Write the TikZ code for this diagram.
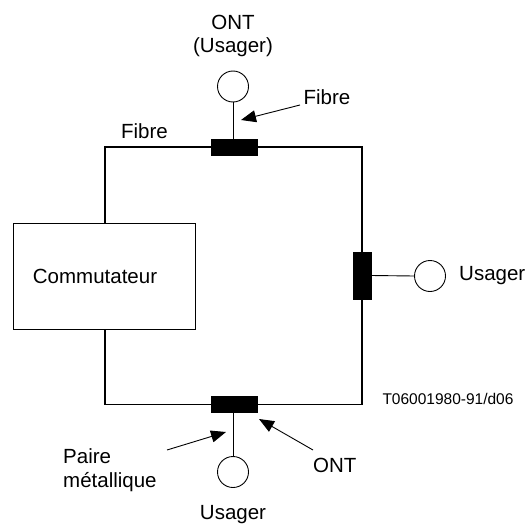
\documentclass[tikz,border=0pt]{standalone}
\usepackage{fontspec}
\setmainfont{Liberation Sans}
\usetikzlibrary{arrows.meta}
\begin{document}
\begin{tikzpicture}[x=1pt,y=-1pt,
  ring/.style={line width=1.8pt},
  thin/.style={line width=0.9pt},
  conn/.style={fill=black,draw=black,inner sep=0pt,minimum width=46pt,minimum height=16pt},
  vconn/.style={fill=black,draw=black,inner sep=0pt,minimum width=18pt,minimum height=47pt},
  user/.style={circle,draw,thin,minimum size=31pt,inner sep=0pt},
  lbl/.style={font=\fontsize{20.5}{24}\selectfont,inner sep=0pt},
  ptr/.style={thin,-{Triangle[length=15pt,width=12pt]}}]
\useasboundingbox (0,0) rectangle (526,527);
\node[draw,thin,minimum width=182pt,minimum height=106pt,inner sep=0pt] (sw) at (104.5,276) {};
\node[lbl] at (95,276) {Commutateur};
\node[conn] (ct) at (234,147) {};
\node[conn] (cb) at (234,404.5) {};
\node[vconn] (cr) at (362,275.5) {};
\coordinate (tl) at (105,147);
\coordinate (tr) at (362,147);
\coordinate (bl) at (105,404.5);
\coordinate (br) at (362,404.5);
\draw[ring] (sw.north -| tl) -- (tl) -- (ct.west);
\draw[ring] (ct.east) -- (tr) -- (cr.north);
\draw[ring] (cr.south) -- (br) -- (cb.east);
\draw[ring] (cb.west) -- (bl) -- (sw.south -| bl);
\node[user] (ut) at (233,86.5) {};
\node[user] (ur) at (430,276) {};
\node[user] (ub) at (233,472) {};
\draw[thin] (ut.south) -- (ct.north -| ut.south);
\draw[thin] (cr.east) -- (ur.west);
\draw[thin] (cb.south -| ub.north) -- (ub.north);
\node[lbl] (ont1) at (233,22) {ONT};
\node[lbl] (ont2) at (233,47) {(Usager)};
\node[lbl] (fib1) at (327,97) {Fibre};
\node[lbl] (fib2) at (144.5,131) {Fibre};
\node[lbl,anchor=west] (usr) at (459,276) {Usager};
\node[lbl] (usb) at (233,515) {Usager};
\node[lbl,anchor=west] (ontb) at (313,465) {ONT};
\node[lbl,anchor=west,align=left] (paire) at (63,470) {Paire\\[0pt]métallique};
\node[font=\fontsize{15.5}{18}\selectfont,inner sep=0pt] (ref) at (448,399) {T06001980-91/d06};
\coordinate (a1s) at (300,105);
\coordinate (a1e) at (241,120);
\coordinate (a2s) at (167,450);
\coordinate (a2e) at (226,432);
\coordinate (a3s) at (313,450);
\coordinate (a3e) at (259,419);
\draw[ptr] (a1s) -- (a1e);
\draw[ptr] (a2s) -- (a2e);
\draw[ptr] (a3s) -- (a3e);
\end{tikzpicture}
\end{document}
